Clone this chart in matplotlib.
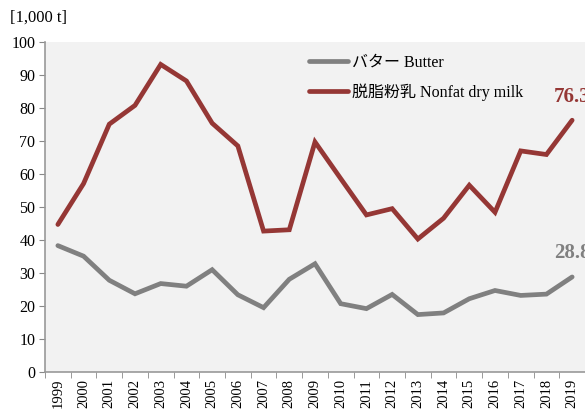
import matplotlib
matplotlib.use("Agg")
import matplotlib.pyplot as plt
import numpy as np

years = [str(y) for y in range(1999, 2020)]
butter = [38.3, 35.1, 27.8, 23.7, 26.8, 26.0, 31.0, 23.4, 19.5, 28.1, 32.8,
          20.7, 19.2, 23.5, 17.4, 17.9, 22.2, 24.7, 23.2, 23.6, 28.8]
nonfat = [44.7, 57.1, 75.1, 80.8, 93.2, 88.2, 75.4, 68.5, 42.7, 43.1, 69.7,
          58.6, 47.6, 49.5, 40.3, 46.6, 56.6, 48.4, 67.0, 65.9, 76.3]
series_names = ["バター Butter", "脱脂粉乳 Nonfat dry milk"]

fam = ["Liberation Serif", "Noto Sans CJK JP"]
plt.rcParams["font.family"] = fam

red = "#953735"
gray = "#808080"

fig = plt.figure(figsize=(5.85, 4.09), dpi=100)
ax = fig.add_axes([45/585, 37/409, 1 - 45/585, (372-42)/409])
ax.set_facecolor("#f2f2f2")

x = np.arange(len(years))
ax.plot(x, butter, color=gray, lw=3.4, label=series_names[0], solid_capstyle="round", solid_joinstyle="miter")
ax.plot(x, nonfat, color=red, lw=3.4, label=series_names[1], solid_capstyle="round", solid_joinstyle="miter")

ax.set_xlim(-0.5, len(years) - 0.5)
ax.set_ylim(0, 100)
ax.set_yticks(range(0, 101, 10))
ax.tick_params(axis="y", labelsize=11.5, length=4, color="#888888", pad=3)
ax.set_xticks(x)
ax.set_xticklabels(years, rotation=90, fontsize=10.5)
ax.tick_params(axis="x", which="major", length=0, pad=5)
ax.set_xticks(np.arange(-0.5, len(years)), minor=True)
ax.tick_params(axis="x", which="minor", length=4, color="#888888")

for s in ["top", "right"]:
    ax.spines[s].set_visible(False)
for s in ["left", "bottom"]:
    ax.spines[s].set_color("#999999")
    ax.spines[s].set_linewidth(1.2)

ax.annotate(f"{nonfat[-1]:.1f}", (x[-1], nonfat[-1]), xytext=(-13, 13), textcoords="offset points",
            color=red, fontsize=15, fontweight="bold", annotation_clip=False)
ax.annotate(f"{butter[-1]:.1f}", (x[-1], butter[-1]), xytext=(-13, 13.5), textcoords="offset points",
            color=gray, fontsize=15, fontweight="bold", annotation_clip=False)

leg = ax.legend(loc="upper left", bbox_to_anchor=(250/540, 1.005), frameon=False,
                fontsize=11.5, handlelength=2.4, handletextpad=0.3, labelspacing=0.8)

fig.text(10/585, 1 - 18/409, "[1,000 t]", fontsize=12, va="center", ha="left")

fig.savefig("out.png", dpi=100)
